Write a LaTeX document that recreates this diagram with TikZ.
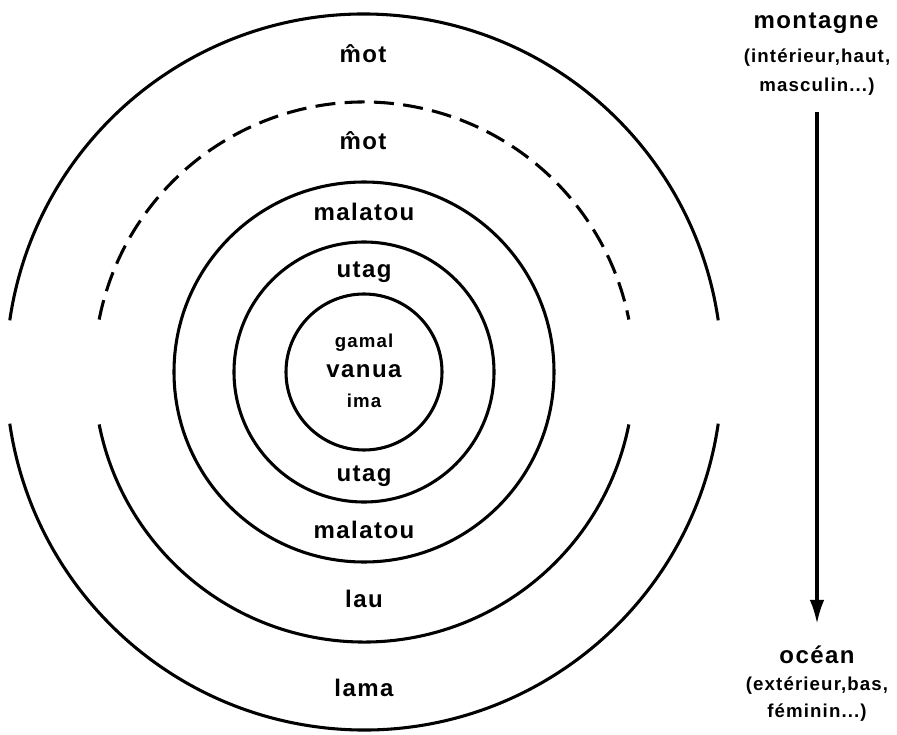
\documentclass[tikz,border=0pt]{standalone}
\usepackage{fontspec}
\setmainfont{Liberation Sans}[LetterSpace=6]
\usetikzlibrary{arrows.meta}

\begin{document}
\begin{tikzpicture}[
    x=0.75pt, y=-0.75pt,
    >=Latex,
    ring/.style={line width=2.3pt},
    dashring/.style={line width=2.3pt, dash pattern=on 15pt off 7pt},
    zone/.style={inner sep=0pt, anchor=base, font=\bfseries\fontsize{18}{20}\selectfont},
    subzone/.style={inner sep=0pt, anchor=base, font=\bfseries\fontsize{14}{16}\selectfont},
    descent/.style={-{Latex[length=18pt,width=11pt]}, line width=2.3pt, shorten <=12pt, shorten >=16pt}
]
\useasboundingbox (0,0) rectangle (897,735);
\coordinate (c) at (364,372);

% rings, inner to outer
\draw[ring] (c) circle[radius=78];
\draw[ring] (c) circle[radius=130];
\draw[ring] (c) circle[radius=190];
\draw[dashring] (c) ++(191.2:270) arc[start angle=191.2, end angle=348.8, radius=270];
\draw[ring] (c) ++(11.2:270) arc[start angle=11.2, end angle=168.8, radius=270];
\draw[ring] (c) ++(188.3:358) arc[start angle=188.3, end angle=351.7, radius=358];
\draw[ring] (c) ++(8.3:358) arc[start angle=8.3, end angle=171.7, radius=358];

% zone names
\node[zone] (motOut) at (363,63) {m̂ot};
\node[zone] (motIn) at (363,150) {m̂ot};
\node[zone] (malatouN) at (364,220) {malatou};
\node[zone] (utagN) at (364,277) {utag};
\node[subzone] (gamal) at (364,347) {gamal};
\node[zone] (vanua) at (364,377) {vanua};
\node[subzone] (ima) at (364,407) {ima};
\node[zone] (utagS) at (364,481) {utag};
\node[zone] (malatouS) at (364,538) {malatou};
\node[zone] (lau) at (364,607) {lau};
\node[zone] (lama) at (364,696) {lama};

% poles
\node[zone] (montagne) at (816,29) {montagne};
\node[subzone] (interieur) at (817,63) {(intérieur,haut,};
\node[subzone] (masculin) at (817,92) {masculin...)};
\node[zone] (ocean) at (817,663) {océan};
\node[subzone] (exterieur) at (817,690) {(extérieur,bas,};
\node[subzone] (feminin) at (817,717) {féminin...)};

\draw[descent] (masculin) -- (ocean);
\end{tikzpicture}
\end{document}
